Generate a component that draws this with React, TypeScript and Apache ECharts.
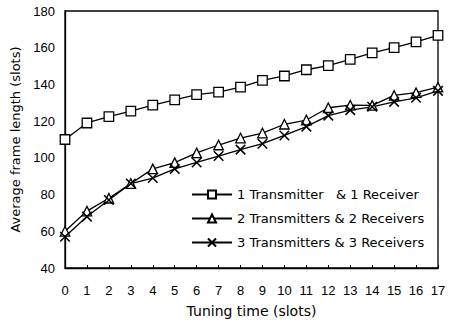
import React, { useEffect, useRef } from "react";
import * as echarts from "echarts";

const slots = ["0","1","2","3","4","5","6","7","8","9","10","11","12","13","14","15","16","17"];
const oneTxRx = [110, 119, 122.5, 125.5, 128.7, 131.6, 134.4, 135.8, 138.5, 142.2, 144.6, 148, 150.2, 153.7, 157.2, 160, 163.2, 166.7];
const twoTxRx = [60, 71, 78, 86, 94, 97.4, 102.7, 107, 110.8, 113.5, 118.3, 120.6, 127.3, 128.7, 128.6, 134, 135.5, 138.5];
const threeTxRx = [57, 68, 77, 86, 89, 94, 97.5, 101, 104.5, 107.7, 112.2, 117, 123, 126, 127.8, 130.5, 132.7, 136.5];
const seriesNames = ["1 Transmitter   & 1 Receiver", "2 Transmitters & 2 Receivers", "3 Transmitters & 3 Receivers"];

const FONT = "Liberation Sans, Arial, sans-serif";
const WIDE = "DejaVu Sans, sans-serif";

export default function App() {
  const ref = useRef<HTMLDivElement>(null);
  useEffect(() => {
    if (!ref.current) return;
    const chart = echarts.init(ref.current, null, { renderer: "svg" });
    const common = {
      type: "line",
      lineStyle: { color: "#000", width: 1.3 },
      symbolSize: 9.5,
      z: 3,
    };
    chart.setOption({
      animation: false,
      backgroundColor: "#fff",
      textStyle: { fontFamily: FONT, color: "#000" },
      grid: { left: 65, right: 12, top: 11, bottom: 51, show: true, borderColor: "#000", borderWidth: 1.3, backgroundColor: "transparent" },
      legend: {
        orient: "vertical",
        left: 186,
        top: 183,
        itemGap: 11,
        itemWidth: 40,
        itemHeight: 10,
        textStyle: { fontFamily: WIDE, fontSize: 13, color: "#000" },
        data: seriesNames,
      },
      xAxis: {
        type: "category",
        data: slots,
        boundaryGap: false,
        name: "Tuning time (slots)",
        nameLocation: "middle",
        nameGap: 36,
        nameTextStyle: { fontFamily: WIDE, fontSize: 14, color: "#000" },
        axisLine: { lineStyle: { color: "#000", width: 1.3 } },
        axisTick: { inside: true, length: 3, lineStyle: { color: "#000" } },
        axisLabel: { fontFamily: FONT, fontSize: 13, color: "#000", margin: 16, interval: 0 },
        splitLine: { show: false },
      },
      yAxis: {
        type: "value",
        min: 40,
        max: 180,
        interval: 20,
        name: "Average frame length (slots)",
        nameLocation: "middle",
        nameGap: 40,
        nameTextStyle: { fontFamily: WIDE, fontSize: 13, color: "#000" },
        axisLine: { show: true, lineStyle: { color: "#000", width: 1.3 } },
        axisTick: { show: false },
        axisLabel: { fontFamily: FONT, fontSize: 13, color: "#000", margin: 10 },
        splitLine: { show: false },
      },
      series: [
        {
          ...common,
          name: seriesNames[0],
          data: oneTxRx,
          symbol: "rect",
          itemStyle: { color: "#fff", borderColor: "#000", borderWidth: 1.3 },
        },
        {
          ...common,
          name: seriesNames[1],
          data: twoTxRx,
          symbol: "triangle",
          itemStyle: { color: "#fff", borderColor: "#000", borderWidth: 1.3 },
        },
        {
          ...common,
          name: seriesNames[2],
          data: threeTxRx,
          symbol: "path://M0,0L10,10M10,0L0,10",
          itemStyle: { color: "none", borderColor: "#000", borderWidth: 1.5 },
        },
      ],
    });
    return () => chart.dispose();
  }, []);
  return <div ref={ref} style={{ width: 450, height: 323, position: "absolute", left: 0, top: 0 }} />;
}
